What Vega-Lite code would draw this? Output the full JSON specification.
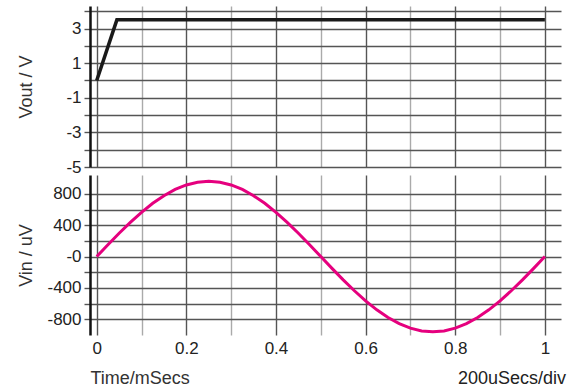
{
  "$schema": "https://vega.github.io/schema/vega-lite/v6.json",
  "padding": {"left": 17, "top": 2, "right": 5, "bottom": 5},
  "background": "white",
  "spacing": -3,
  "datasets": {
    "vout": [{"t": 0, "v": 0}, {"t": 0.045, "v": 3.5}, {"t": 1, "v": 3.5}],
    "vin": [
      {"t": 0, "v": 0}, {"t": 0.025, "v": 150.2}, {"t": 0.05, "v": 296.7}, {"t": 0.075, "v": 435.8},
      {"t": 0.1, "v": 564.3}, {"t": 0.125, "v": 678.8}, {"t": 0.15, "v": 776.6}, {"t": 0.175, "v": 855.4},
      {"t": 0.2, "v": 913.0}, {"t": 0.225, "v": 948.2}, {"t": 0.25, "v": 960}, {"t": 0.275, "v": 948.2},
      {"t": 0.3, "v": 913.0}, {"t": 0.325, "v": 855.4}, {"t": 0.35, "v": 776.6}, {"t": 0.375, "v": 678.8},
      {"t": 0.4, "v": 564.3}, {"t": 0.425, "v": 435.8}, {"t": 0.45, "v": 296.7}, {"t": 0.475, "v": 150.2},
      {"t": 0.5, "v": 0}, {"t": 0.525, "v": -150.2}, {"t": 0.55, "v": -296.7}, {"t": 0.575, "v": -435.8},
      {"t": 0.6, "v": -564.3}, {"t": 0.625, "v": -678.8}, {"t": 0.65, "v": -776.6}, {"t": 0.675, "v": -855.4},
      {"t": 0.7, "v": -913.0}, {"t": 0.725, "v": -948.2}, {"t": 0.75, "v": -960}, {"t": 0.775, "v": -948.2},
      {"t": 0.8, "v": -913.0}, {"t": 0.825, "v": -855.4}, {"t": 0.85, "v": -776.6}, {"t": 0.875, "v": -678.8},
      {"t": 0.9, "v": -564.3}, {"t": 0.925, "v": -435.8}, {"t": 0.95, "v": -296.7}, {"t": 0.975, "v": -150.2},
      {"t": 1, "v": 0}
    ],
    "note": [{"label": "200uSecs/div"}]
  },
  "config": {
    "view": {"stroke": null},
    "font": "Liberation Sans",
    "axis": {
      "labelFont": "Liberation Sans",
      "titleFont": "Liberation Sans",
      "labelFontSize": 17,
      "titleFontSize": 18,
      "titleFontWeight": "normal",
      "labelColor": "#222",
      "titleColor": "#333",
      "gridColor": "#555",
      "gridWidth": 1.4,
      "gridOpacity": 1,
      "tickColor": "#555",
      "tickWidth": 1.4
    },
    "text": {"font": "Liberation Sans"}
  },
  "vconcat": [
    {
      "width": 471,
      "height": 161,
      "data": {"name": "vout"},
      "mark": {"type": "line", "color": "#1a1a1a", "strokeWidth": 3.5, "clip": true},
      "encoding": {
        "x": {
          "field": "t", "type": "quantitative",
          "scale": {"domain": [-0.015, 1.036], "nice": false, "zero": false},
          "axis": {
            "values": [0, 0.1, 0.2, 0.3, 0.4, 0.5, 0.6, 0.7, 0.8, 0.9, 1],
            "tickCount": 30,
            "labels": false, "ticks": false, "domain": false, "title": null,
            "gridColor": {"condition": {"test": "round(datum.value*10) % 2 == 1", "value": "#aaa"}, "value": "#555"}
          }
        },
        "y": {
          "field": "v", "type": "quantitative",
          "scale": {"domain": [-5, 4.3], "nice": false, "zero": false},
          "axis": {
            "values": [-5, -4, -3, -2, -1, 0, 1, 2, 3, 4],
            "tickCount": 30,
            "labelExpr": "datum.value % 2 != 0 ? '' + datum.value : ''",
            "labelOverlap": false,
            "tickSize": 6, "labelPadding": 3,
            "domainColor": "#111", "domainWidth": 2.5,
            "title": "Vout / V",
            "titleAngle": -90, "titleAlign": "center", "titleBaseline": "middle",
            "titleX": -64
          }
        }
      }
    },
    {
      "width": 471,
      "height": 160,
      "layer": [
        {
          "data": {"name": "vin"},
          "mark": {"type": "line", "color": "#e5007e", "strokeWidth": 3, "clip": true},
          "encoding": {
            "x": {
              "field": "t", "type": "quantitative",
              "scale": {"domain": [-0.015, 1.036], "nice": false, "zero": false},
              "axis": {
                "values": [0, 0.1, 0.2, 0.3, 0.4, 0.5, 0.6, 0.7, 0.8, 0.9, 1],
                "tickCount": 30,
                "format": ".1~f",
                "labelExpr": "round(datum.value*10) % 2 == 0 ? datum.label : ''",
                "labelOverlap": false,
                "ticks": false, "domain": false, "labelPadding": 5,
                "gridColor": {"condition": {"test": "round(datum.value*10) % 2 == 1", "value": "#aaa"}, "value": "#555"},
                "title": "Time/mSecs", "titleAnchor": "start", "titleAlign": "left", "titlePadding": 13
              }
            },
            "y": {
              "field": "v", "type": "quantitative",
              "scale": {"domain": [-1000, 1040], "nice": false, "zero": false},
              "axis": {
                "values": [-800, -600, -400, -200, 0, 200, 400, 600, 800],
                "tickCount": 30,
                "labelExpr": "datum.value == 0 ? '-0' : (datum.value % 400 == 0 ? '' + datum.value : '')",
                "labelOverlap": false,
                "tickSize": 6, "labelPadding": 3,
                "domainColor": "#111", "domainWidth": 2.5,
                "title": "Vin / uV",
                "titleAngle": -90, "titleAlign": "center", "titleBaseline": "middle",
                "titleX": -64
              }
            }
          }
        },
        {
          "data": {"name": "note"},
          "mark": {"type": "text", "align": "right", "baseline": "middle", "dx": 5, "dy": 44, "fontSize": 18, "color": "#222"},
          "encoding": {
            "x": {"datum": 1.036, "type": "quantitative"},
            "y": {"datum": -1000, "type": "quantitative"},
            "text": {"field": "label"}
          }
        }
      ]
    }
  ]
}
